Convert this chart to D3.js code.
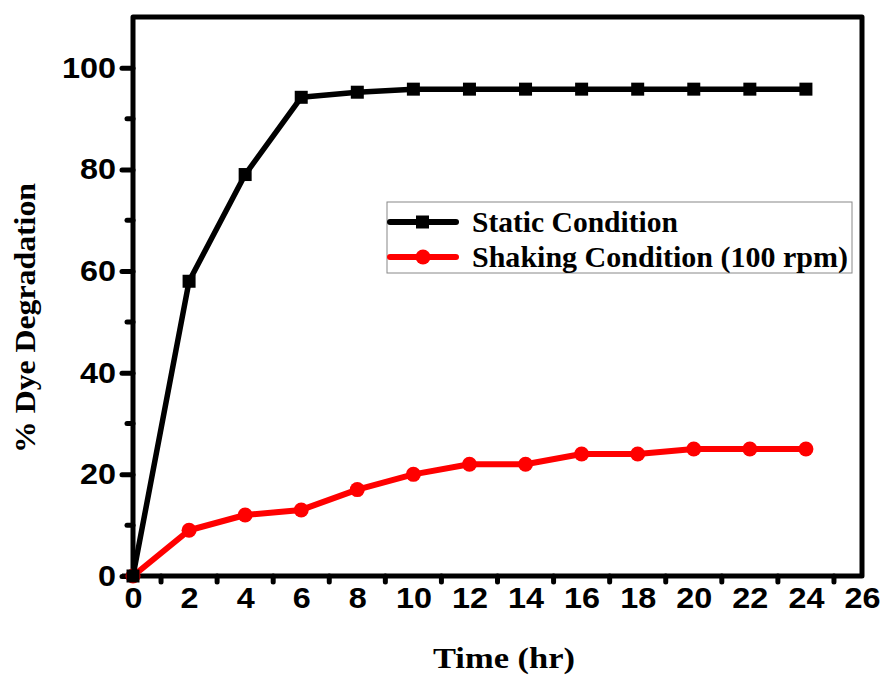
<!DOCTYPE html>
<html>
<head>
<meta charset="utf-8">
<script src="https://cdn.jsdelivr.net/npm/d3@7"></script>
<style>
  body { margin: 0; background: #fff; }
  .tick text { font-family: "Liberation Sans", Arial, sans-serif; font-weight: bold; }
</style>
</head>
<body>
<div id="svg-container"></div>
<script>
////////////////////////////  Data  ////////////////////////////
const hours = [0, 2, 4, 6, 8, 10, 12, 14, 16, 18, 20, 22, 24];
const staticVals = [0, 58, 79, 94.2, 95.2, 95.8, 95.8, 95.8, 95.8, 95.8, 95.8, 95.8, 95.8];
const shakingVals = [0, 9, 12, 13, 17, 20, 22, 22, 24, 24, 25, 25, 25];
const xTicks = [0, 2, 4, 6, 8, 10, 12, 14, 16, 18, 20, 22, 24, 26];
const xMinor = [1, 3, 5, 7, 9, 11, 13, 15, 17, 19, 21, 23, 25];
const yTicks = [0, 20, 40, 60, 80, 100];
const yMinor = [10, 30, 50, 70, 90];
const seriesNames = ["Static Condition", "Shaking Condition (100 rpm)"];

////////////////////////////  Init  ////////////////////////////
const width = 881, height = 675;
const margin = { top: 17, right: 19, bottom: 99, left: 133 };
const serif = "'Liberation Serif', 'Times New Roman', serif";

const svg = d3.select("#svg-container").append("svg")
  .attr("width", width).attr("height", height);

const xScale = d3.scaleLinear().domain([0, 26])
  .range([margin.left, width - margin.right]);
const yScale = d3.scaleLinear().domain([0, 110])
  .range([height - margin.bottom, margin.top]);

// frame
svg.append("rect")
  .attr("x", margin.left).attr("y", margin.top)
  .attr("width", width - margin.left - margin.right)
  .attr("height", height - margin.top - margin.bottom)
  .attr("fill", "none").attr("stroke", "#000").attr("stroke-width", 5)
  .attr("stroke-linejoin", "round");

// x axis
const xAxis = d3.axisBottom(xScale).tickValues(xTicks).tickSize(0).tickPadding(11)
  .tickFormat(d3.format("d"));
const gx = svg.append("g")
  .attr("transform", `translate(0,${yScale(0)})`)
  .call(xAxis);
gx.select(".domain").remove();
gx.selectAll("text")
  .style("font-size", "29px").attr("fill", "#000")
  .attr("textLength", (d) => String(d).length * 18)
  .attr("lengthAdjust", "spacingAndGlyphs");
gx.selectAll(".minor").data(xMinor).enter().append("line")
  .attr("x1", (d) => xScale(d)).attr("x2", (d) => xScale(d))
  .attr("y1", 0).attr("y2", 6)
  .attr("stroke", "#000").attr("stroke-width", 5).attr("stroke-linecap", "round");
gx.append("line")
  .attr("x1", margin.left - 11).attr("x2", margin.left)
  .attr("stroke", "#000").attr("stroke-width", 5);

// y axis
const yAxis = d3.axisLeft(yScale).tickValues(yTicks).tickSize(11).tickPadding(6);
const gy = svg.append("g")
  .attr("transform", `translate(${margin.left},0)`)
  .call(yAxis);
gy.select(".domain").remove();
gy.selectAll(".tick line").attr("stroke", "#000").attr("stroke-width", 5)
  .attr("stroke-linecap", "round");
gy.selectAll("text")
  .style("font-size", "29px").attr("fill", "#000")
  .attr("textLength", (d) => String(d).length * 18)
  .attr("lengthAdjust", "spacingAndGlyphs");
gy.selectAll(".minor").data(yMinor).enter().append("line")
  .attr("x1", -6).attr("x2", 0)
  .attr("y1", (d) => yScale(d)).attr("y2", (d) => yScale(d))
  .attr("stroke", "#000").attr("stroke-width", 5).attr("stroke-linecap", "round");

// axis titles
svg.append("text")
  .attr("x", 504)
  .attr("y", 668)
  .attr("text-anchor", "middle")
  .attr("textLength", 142).attr("lengthAdjust", "spacingAndGlyphs")
  .style("font-family", serif)
  .style("font-weight", "bold").style("font-size", "29px")
  .text("Time (hr)");

svg.append("text")
  .attr("transform", "translate(35,318) rotate(-90)")
  .attr("text-anchor", "middle")
  .attr("textLength", 270).attr("lengthAdjust", "spacingAndGlyphs")
  .style("font-family", serif)
  .style("font-weight", "bold").style("font-size", "29px")
  .text("% Dye Degradation");

////////////////////////////  Series  ////////////////////////////
const line = d3.line()
  .x((d) => xScale(d[0]))
  .y((d) => yScale(d[1]));

const staticData = hours.map((h, i) => [h, staticVals[i]]);
const shakingData = hours.map((h, i) => [h, shakingVals[i]]);

svg.append("path").datum(shakingData)
  .attr("fill", "none").attr("stroke", "#ff0000").attr("stroke-width", 6)
  .attr("stroke-linejoin", "round")
  .attr("d", line);
svg.selectAll(".shake-pt").data(shakingData).enter().append("circle")
  .attr("cx", (d) => xScale(d[0])).attr("cy", (d) => yScale(d[1]))
  .attr("r", 7.5).attr("fill", "#ff0000");

svg.append("path").datum(staticData)
  .attr("fill", "none").attr("stroke", "#000").attr("stroke-width", 5.5)
  .attr("stroke-linejoin", "round")
  .attr("d", line);
svg.selectAll(".static-pt").data(staticData).enter().append("rect")
  .attr("x", (d) => xScale(d[0]) - 6.5).attr("y", (d) => yScale(d[1]) - 6.5)
  .attr("width", 13).attr("height", 13).attr("fill", "#000");

////////////////////////////  Legend  ////////////////////////////
const legend = svg.append("g").attr("transform", "translate(387,202)");
legend.append("rect")
  .attr("width", 465).attr("height", 71)
  .attr("fill", "#fff").attr("stroke", "#888").attr("stroke-width", 1);

const colors = ["#000", "#ff0000"];
const legendWidths = [206, 376];
seriesNames.forEach((name, i) => {
  const ly = 20 + i * 35;
  legend.append("line")
    .attr("x1", 3).attr("x2", 69).attr("y1", ly).attr("y2", ly)
    .attr("stroke", colors[i]).attr("stroke-width", 6).attr("stroke-linecap", "round");
  if (i === 0) {
    legend.append("rect").attr("x", 29).attr("y", ly - 6.5)
      .attr("width", 13).attr("height", 13).attr("fill", colors[i]);
  } else {
    legend.append("circle").attr("cx", 36).attr("cy", ly).attr("r", 7.5)
      .attr("fill", colors[i]);
  }
  legend.append("text")
    .attr("x", 85).attr("y", ly + 10)
    .attr("textLength", legendWidths[i]).attr("lengthAdjust", "spacingAndGlyphs")
    .style("font-family", serif)
    .style("font-weight", "bold").style("font-size", "29px")
    .text(name);
});
</script>
</body>
</html>
